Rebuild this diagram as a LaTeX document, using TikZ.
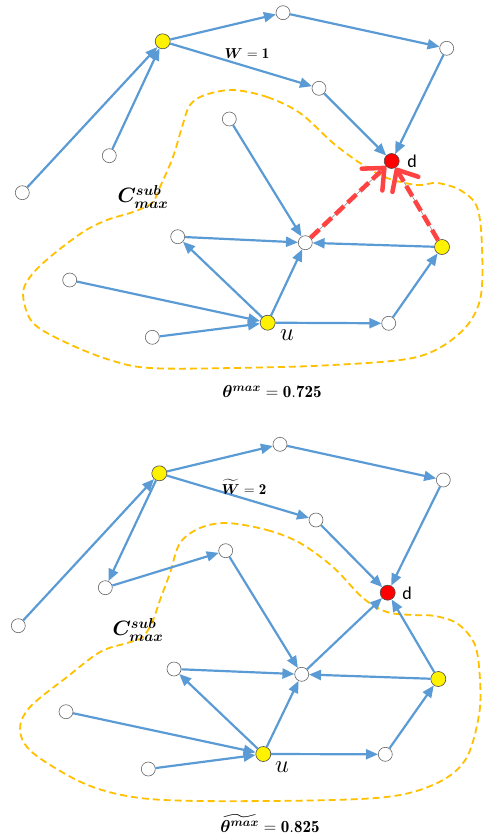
\documentclass[tikz,border=0pt]{standalone}
\usepackage{amsmath,amssymb}
\usepackage{fontspec}
\usetikzlibrary{arrows.meta}
\newfontfamily\carlfont{Carlito}
\definecolor{eblue}{HTML}{5B9BD5}
\definecolor{regc}{HTML}{FFC000}
\definecolor{ered}{HTML}{FF4343}
\tikzset{
 wnode/.style={circle,draw=black!60,fill=white,line width=0.6pt,minimum size=14pt,inner sep=0pt},
 ynode/.style={wnode,fill=yellow,draw=black!70,minimum size=15pt},
 rnode/.style={wnode,fill=red,draw=black!70,minimum size=15pt},
 edge/.style={draw=eblue,line width=2.2pt,-{Triangle[length=12pt,width=10pt]}},
 redge/.style={draw=ered,line width=4.5pt,dash pattern=on 12pt off 5pt,-{Straight Barb[length=17pt,width=30pt,round]}},
 thinln/.style={draw=gray,line width=0.5pt},
 region/.style={draw=regc,line width=1.8pt,dash pattern=on 7pt off 4pt},
 lab/.style={inner sep=0pt}
}
\begin{document}
\begin{tikzpicture}[x=1pt,y=-1pt]
\useasboundingbox (0,0) rectangle (485,835);

% ---------------- top panel ----------------
\draw[region] plot[smooth cycle,tension=0.55] coordinates {
 (233,90) (267,97) (300,113) (333,143) (360,163) (387,178) (417,185) (437,183)
 (460,190) (477,207) (482,247) (480,300) (460,333) (417,357) (333,365) (233,368)
 (150,368) (110,360) (67,343) (33,323) (23,295) (30,277) (50,257) (83,232)
 (107,220) (133,212) (152,203) (160,187) (173,157) (182,127) (190,105) (205,95)};

\node[ynode] (Y1) at (162.7,41.3) {};
\node[wnode] (A) at (283,12.7) {};
\node[wnode] (B) at (446.7,48.3) {};
\node[wnode] (C) at (319,88.3) {};
\node[rnode] (D) at (391.7,161) {};
\node[wnode] (E) at (229.3,119) {};
\node[wnode] (F) at (109.3,155.7) {};
\node[wnode] (G) at (22.3,192.7) {};
\node[wnode] (H) at (305.3,242.7) {};
\node[wnode] (I) at (177.7,236.7) {};
\node[ynode] (J) at (442,247) {};
\node[wnode] (K) at (69.7,280) {};
\node[ynode] (U) at (267.7,322.7) {};
\node[wnode] (L) at (388.7,323.3) {};
\node[wnode] (M) at (152.3,337.3) {};

\draw[edge] (G) -- (Y1);
\draw[edge] (F) -- (Y1);
\draw[edge] (Y1) -- (A);
\draw[edge] (A) -- (B);
\draw[edge] (Y1) -- (C);
\draw[edge] (C) -- (D);
\draw[edge] (B) -- (D);
\draw[edge] (E) -- (H);
\draw[edge] (I) -- (H);
\draw[edge] (J) -- (H);
\draw[edge] (U) -- (I);
\draw[edge] (K) -- (U);
\draw[edge] (M) -- (U);
\draw[edge] (U) -- (H);
\draw[edge] (U) -- (L);
\draw[edge] (L) -- (J);
\draw[thinln] (H) -- (D);
\draw[thinln] (J) -- (D);
\draw[redge] (H) -- (D);
\draw[redge] (J) -- (D);

\node[lab,font=\fontsize{15}{15}\selectfont] (w1) at (247,54) {$\boldsymbol{W} = \mathbf{1}$};
\node[lab,font=\carlfont\fontsize{18}{18}\selectfont] (dl1) at (412,161) {d};
\node[lab,font=\fontsize{20}{20}\selectfont] (cl1) at (143,197) {$\boldsymbol{C^{sub}_{max}}$};
\node[lab,font=\fontsize{26}{26}\selectfont] (ul1) at (287,335) {$u$};
\node[lab,font=\fontsize{17}{17}\selectfont] (th1) at (272,392) {$\boldsymbol{\theta^{max}} = \mathbf{0.725}$};

% ---------------- bottom panel ----------------
\draw[region] plot[smooth cycle,tension=0.55] coordinates {
 (227,523) (267,530) (300,543) (333,567) (363,598) (387,612) (413,615) (435,616)
 (458,624) (475,645) (480,680) (479,715) (467,757) (443,780) (400,795) (333,800)
 (200,801) (133,797) (83,783) (33,753) (20,730) (30,707) (67,677) (100,652)
 (127,643) (143,637) (153,620) (160,600) (170,573) (180,543) (200,528)};

\node[ynode] (Y1b) at (159.3,473.3) {};
\node[wnode] (Ab) at (280,444.3) {};
\node[wnode] (Bb) at (443.3,480) {};
\node[wnode] (Cb) at (316,520) {};
\node[rnode] (Db) at (387.7,592.7) {};
\node[wnode] (Eb) at (225.7,550.7) {};
\node[wnode] (Fb) at (105.3,587.7) {};
\node[wnode] (Gb) at (18.3,625.7) {};
\node[wnode] (Hb) at (301.7,674.3) {};
\node[wnode] (Ib) at (174,669) {};
\node[ynode] (Jb) at (438.3,679) {};
\node[wnode] (Kb) at (66,711.7) {};
\node[ynode] (Ub) at (263.3,754) {};
\node[wnode] (Lb) at (385.3,754.3) {};
\node[wnode] (Mb) at (148.3,769) {};

\draw[edge] (Gb) -- (Y1b);
\draw[edge] (Y1b) -- (Fb);
\draw[edge] (Fb) -- (Eb);
\draw[edge] (Y1b) -- (Ab);
\draw[edge] (Ab) -- (Bb);
\draw[edge] (Y1b) -- (Cb);
\draw[edge] (Cb) -- (Db);
\draw[edge] (Bb) -- (Db);
\draw[edge] (Eb) -- (Hb);
\draw[edge] (Ib) -- (Hb);
\draw[edge] (Jb) -- (Hb);
\draw[edge] (Ub) -- (Ib);
\draw[edge] (Kb) -- (Ub);
\draw[edge] (Mb) -- (Ub);
\draw[edge] (Ub) -- (Hb);
\draw[edge] (Ub) -- (Lb);
\draw[edge] (Lb) -- (Jb);
\draw[edge] (Hb) -- (Db);
\draw[edge] (Jb) -- (Db);

\node[lab,font=\fontsize{15}{15}\selectfont] (w2) at (244,487) {$\widetilde{\boldsymbol{W}} = \mathbf{2}$};
\node[lab,font=\carlfont\fontsize{18}{18}\selectfont] (dl2) at (407,593) {d};
\node[lab,font=\fontsize{20}{20}\selectfont] (cl2) at (138,630) {$\boldsymbol{C^{sub}_{max}}$};
\node[lab,font=\fontsize{26}{26}\selectfont] (ul2) at (282,767) {$u$};
\node[lab,font=\fontsize{17}{17}\selectfont] (th2) at (270,824) {$\widetilde{\boldsymbol{\theta^{max}}} = \mathbf{0.825}$};
\end{tikzpicture}
\end{document}
